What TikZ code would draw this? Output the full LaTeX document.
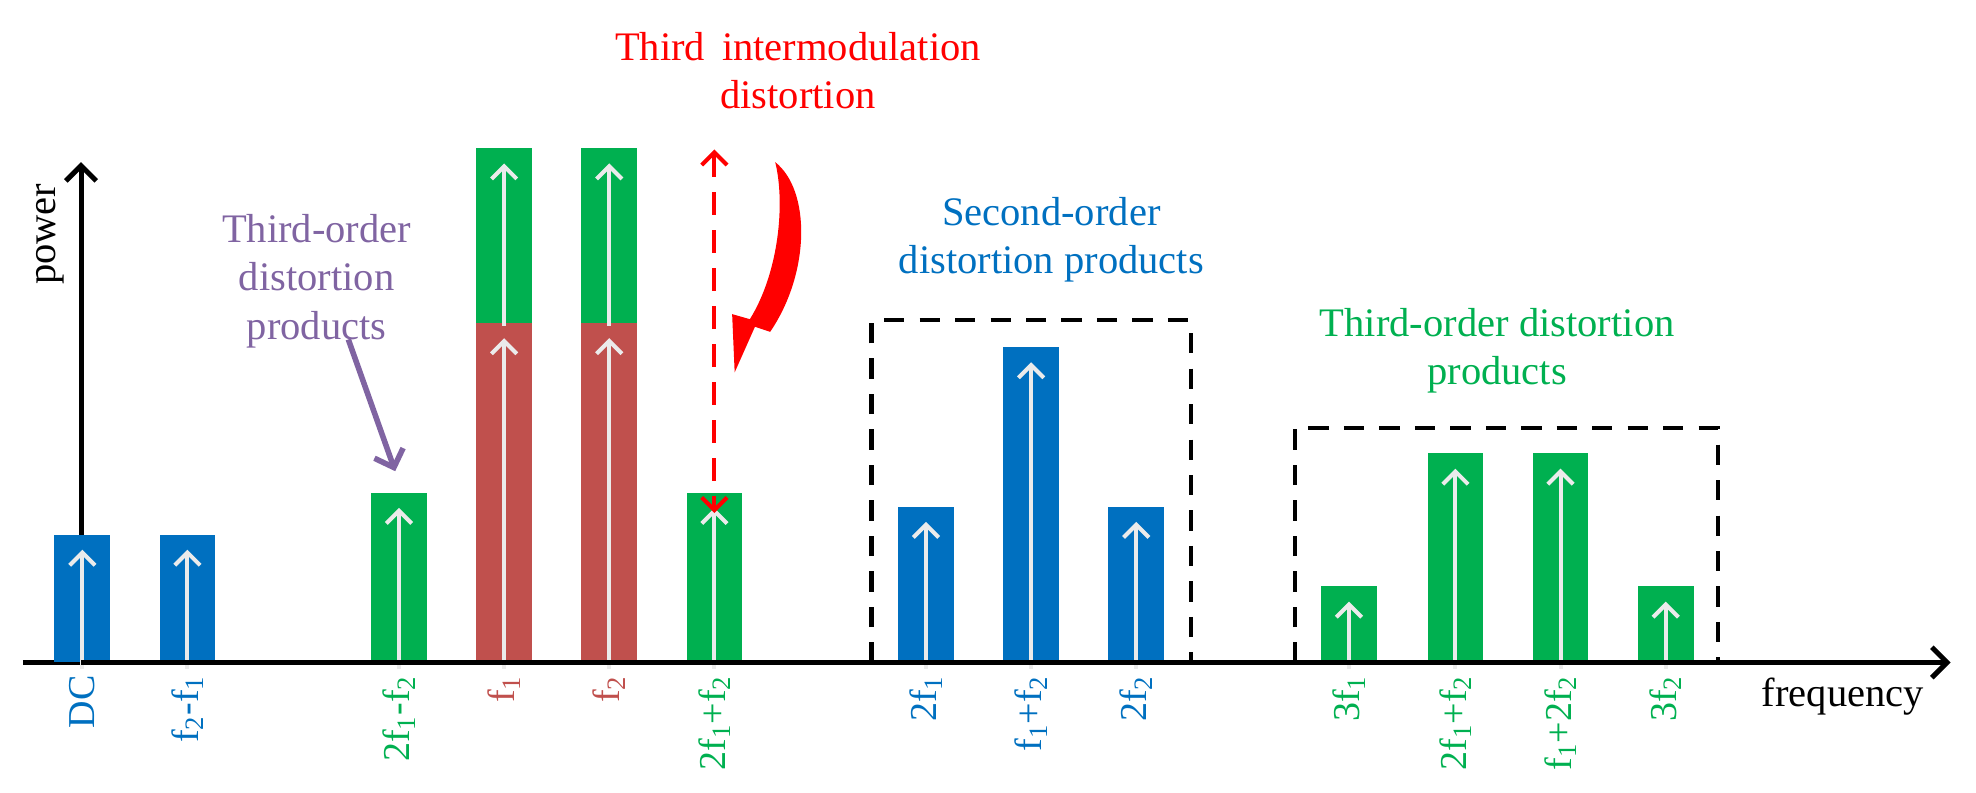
\documentclass[tikz,border=0pt]{standalone}
\usepackage{fontspec}
\setmainfont{Liberation Serif}
\usetikzlibrary{arrows.meta}
\definecolor{cb}{RGB}{0,112,192}
\definecolor{cg}{RGB}{0,176,80}
\definecolor{cr}{RGB}{192,80,77}
\definecolor{cp}{RGB}{128,100,162}
\definecolor{cw}{RGB}{235,235,235}
\tikzset{
 lab/.style={rotate=90,anchor=east,font=\fontsize{15}{15}\selectfont,inner sep=0pt},
 wa/.style={cw,line width=1.6pt,-{Straight Barb[length=5pt,width=10pt,line width=1.6pt]}},
 box/.style={black,line width=1.6pt,dash pattern=on 8pt off 6pt},
 ttl/.style={font=\fontsize{16}{19}\selectfont,align=center},
}
\newcommand\mybar[6]{% name, x, top, color, label, labelcolor
 \fill[#4] (#2-22,523) rectangle (#2+22,#3);
 \coordinate (#1t) at (#2,#3+12);
 \coordinate (#1b) at (#2,528);
 \draw[wa] (#1b) -- (#1t);
 \node[lab,text=#6] (#1l) at (#2,533) {#5};
}
\begin{document}
\begin{tikzpicture}[x=0.5pt,y=-0.5pt]
\useasboundingbox (0,0) rectangle (1560,626);
% axes
\coordinate (o) at (64,523);
\coordinate (ytop) at (64,128);
\coordinate (xend) at (1540,523);
\draw[line width=2pt] (18,523) -- (o);
\draw[line width=2pt,-{Straight Barb[length=6pt,width=12pt,line width=2pt]}] (o) -- (ytop);
% bars
\mybar{dc}{65}{422}{cb}{DC}{cb}
\mybar{fd}{148}{422}{cb}{f\textsubscript{2}-f\textsubscript{1}}{cb}
\mybar{im1}{315}{389}{cg}{2f\textsubscript{1}-f\textsubscript{2}}{cg}
\fill[cg] (376,255) rectangle (420,117);
\fill[cg] (459,255) rectangle (503,117);
\mybar{fa}{398}{255}{cr}{f\textsubscript{1}}{cr}
\mybar{fb}{481}{255}{cr}{f\textsubscript{2}}{cr}
\draw[wa] (398,257) -- (398,129);
\draw[wa] (481,257) -- (481,129);
\mybar{im2}{564}{389}{cg}{2f\textsubscript{1}+f\textsubscript{2}}{cg}
\mybar{s1}{731}{400}{cb}{2f\textsubscript{1}}{cb}
\mybar{s2}{814}{274}{cb}{f\textsubscript{1}+f\textsubscript{2}}{cb}
\mybar{s3}{897}{400}{cb}{2f\textsubscript{2}}{cb}
\mybar{t1}{1065}{463}{cg}{3f\textsubscript{1}}{cg}
\mybar{t2}{1149}{358}{cg}{2f\textsubscript{1}+f\textsubscript{2}}{cg}
\mybar{t3}{1232}{358}{cg}{f\textsubscript{1}+2f\textsubscript{2}}{cg}
\mybar{t4}{1315}{463}{cg}{3f\textsubscript{2}}{cg}
\draw[line width=2pt,-{Straight Barb[length=6pt,width=12pt,line width=2pt]}] (o) -- (xend);
% boxes
\draw[box] (688,523) -- (688,253) -- (940,253) -- (940,523);
\draw[box] (1022,523) -- (1022,338) -- (1356,338) -- (1356,523) -- cycle;
% axis labels
\node[rotate=90,font=\fontsize{16}{16}\selectfont] (pw) at (40,185) {power};
\node[font=\fontsize{16}{16}\selectfont] (fq) at (1455,550) {frequency};
% titles
\node[ttl,text=red] (tid) at (630,56) {Third\, intermodulation\\distortion};
\node[ttl,text=cb] (sot) at (830,189) {Second-order\\distortion products};
\node[ttl,text=cg] (tot) at (1182,277) {Third-order distortion\\products};
\node[ttl,text=cp] (tod) at (250,222) {Third-order\\distortion\\products};
% red dashed double arrow
\coordinate (ra) at (564,118);
\coordinate (rb) at (564,405);
\draw[red,line width=1.6pt,dash pattern=on 9pt off 6pt,{Straight Barb[length=5pt,width=10pt,line width=1.6pt]}-{Straight Barb[length=5pt,width=10pt,line width=1.6pt]}] (ra) -- (rb);
% red curved arrow
\coordinate (ca) at (612,128);
\coordinate (cz) at (580,294);
\fill[red] (ca) .. controls (640,150) and (640,215) .. (608,262)
  -- (596,258) -- (cz) -- (578,248) -- (592,252)
  .. controls (615,215) and (620,160) .. (ca);
% purple arrow
\coordinate (pa) at (275,268);
\coordinate (pb) at (312,372);
\draw[cp,line width=2.2pt,-{Straight Barb[length=6pt,width=12pt,line width=2.2pt]}] (pa) -- (pb);
\end{tikzpicture}
\end{document}
